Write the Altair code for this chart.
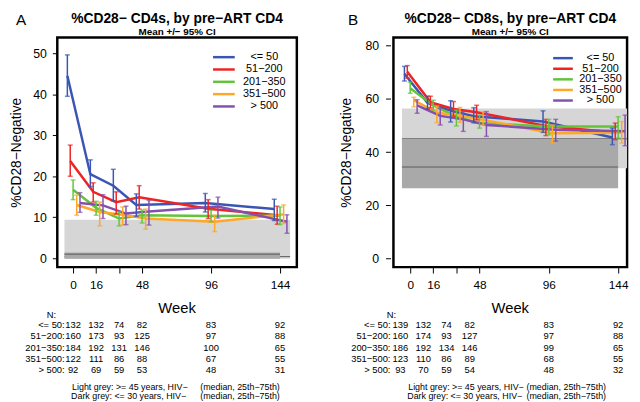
import altair as alt
import pandas as pd

FONT = "Liberation Sans"
TFONT = "Liberation Sans"

groups = ["<= 50", "51\u2212200", "201\u2212350", "351\u2212500", "> 500"]
colors = ["#3A56B5", "#EE2424", "#63C43C", "#FFA726", "#8450AE"]
weeks = [0, 16, 32, 48, 96, 144]

# ---- Panel A (CD4) : mean and 95% CI per group, per week ----
a_mean = [[44.5, 20.5, 17.7, 13.0, 13.5, 12.0],
          [23.7, 16.2, 13.7, 14.9, 12.1, 10.5],
          [16.7, 12.3, 9.7, 10.5, 10.3, 10.4],
          [13.0, 11.3, 10.6, 9.7, 8.9, 10.7],
          [13.5, 12.9, 10.9, 11.4, 12.6, 8.9]]
a_lo = [[39.5, 17.5, 14.0, 10.2, 11.3, 9.2],
        [20.0, 13.7, 10.8, 12.0, 9.7, 8.3],
        [14.3, 10.5, 7.9, 8.6, 8.9, 8.2],
        [10.5, 7.9, 8.1, 7.1, 6.5, 8.5],
        [11.2, 9.7, 8.2, 8.1, 9.8, 6.1]]
a_hi = [[49.6, 24.0, 21.7, 15.7, 15.8, 14.4],
        [27.6, 18.4, 16.2, 17.7, 14.3, 12.7],
        [19.1, 13.9, 11.3, 11.8, 11.7, 12.5],
        [15.4, 13.7, 12.5, 12.0, 10.5, 13.0],
        [16.0, 15.5, 12.7, 14.1, 14.9, 10.6]]
a_n = [[132, 132, 74, 82, 83, 92],
       [160, 173, 93, 125, 97, 88],
       [184, 192, 131, 146, 100, 65],
       [122, 111, 86, 88, 67, 55],
       [92, 69, 59, 53, 48, 31]]
a_rowlabels = ["<= 50:", "51\u2212200:", "201\u2212350:", "351\u2212500:", "> 500:"]
# reference bands: [lower, upper, median, first week, last week]
a_light = [-0.1, 9.4, 0.4, -6, 151]
a_dark = [-0.1, 1.4, 1.0, -6, 144]

# ---- Panel B (CD8) ----
b_mean = [[69.4, 58.5, 55.6, 53.5, 51.5, 45.5],
          [70.2, 58.8, 56.2, 55.0, 49.8, 47.4],
          [64.0, 57.5, 53.3, 50.9, 49.6, 49.6],
          [59.5, 54.8, 53.7, 52.1, 47.1, 47.3],
          [57.6, 53.6, 52.3, 50.2, 48.4, 47.8]]
b_lo = [[66.7, 56.1, 51.3, 51.0, 47.4, 42.8],
        [67.8, 56.6, 53.5, 52.1, 46.2, 44.7],
        [62.1, 55.8, 49.8, 49.0, 46.5, 45.3],
        [57.0, 51.1, 51.2, 50.2, 43.4, 43.4],
        [54.6, 50.2, 47.8, 45.9, 44.1, 42.4]]
b_hi = [[72.2, 61.0, 59.3, 56.7, 55.5, 49.0],
        [72.5, 61.0, 59.0, 57.6, 52.3, 50.9],
        [66.3, 59.5, 55.8, 53.9, 52.3, 53.3],
        [60.6, 57.3, 56.8, 55.2, 50.2, 51.5],
        [59.7, 56.4, 55.2, 55.2, 52.3, 53.9]]
b_n = [[139, 132, 74, 82, 83, 92],
       [160, 174, 93, 127, 97, 88],
       [186, 192, 134, 146, 99, 65],
       [123, 110, 86, 89, 68, 55],
       [93, 70, 59, 54, 48, 32]]
b_rowlabels = ["<= 50:", "51\u2212200:", "200\u2212350:", "351\u2212500:", "> 500:"]
b_light = [33.9, 56.4, 45.0, -5.7, 150.2]
b_dark = [26.4, 44.9, 34.4, -5.7, 144]

JITTER = [-4, -2, 0, 2.5, 4.8]   # horizontal dodge (weeks) per group
H = 233


def series_df(mean, lo, hi):
    rows = []
    for gi, g in enumerate(groups):
        for wi, w in enumerate(weeks):
            rows.append(dict(group=g, gi=gi, week=w, xj=w + JITTER[gi],
                             mean=mean[gi][wi], lo=lo[gi][wi], hi=hi[gi][wi]))
    return pd.DataFrame(rows)


def table_df(n):
    rows = []
    for gi in range(len(groups)):
        for wi, w in enumerate(weeks):
            rows.append(dict(ri=gi, week=w, n=str(n[gi][wi])))
    return pd.DataFrame(rows)


def txt(text, x, y, size, weight="normal", align="left", angle=0, font=FONT):
    return alt.Chart(pd.DataFrame({"t": [text]})).mark_text(
        align=align, baseline="alphabetic", fontSize=size, fontWeight=weight,
        angle=angle, font=font, color="black"
    ).encode(text="t:N", x=alt.value(x), y=alt.value(y))


def panel(p):
    W = p["width"]
    xs = alt.Scale(domain=p["xdom"], nice=False, zero=False)
    ys = alt.Scale(domain=p["ydom"], nice=False, zero=False)
    color = alt.Color("group:N", scale=alt.Scale(domain=groups, range=colors), legend=None)
    df = series_df(p["mean"], p["lo"], p["hi"])

    xaxis = alt.Axis(values=weeks, labelExpr="datum.value == 32 ? '' : datum.label",
                     tickSize=6, tickColor="black", tickWidth=1, labelPadding=7,
                     labelFontSize=12, labelColor="black", labelFont=FONT,
                     domain=False, grid=False, title=None, labelFlush=False, labelOverlap=False)
    yaxis = alt.Axis(values=p["yticks"], tickSize=5, tickColor="black", tickWidth=1,
                     labelPadding=p["ylabpad"], offset=p["yoffset"], labelFontSize=12.5,
                     labelColor="black", labelFont=FONT, domain=False, grid=False, title=None)

    # invisible layer that carries the axes
    axes = alt.Chart(df).mark_point(opacity=0).encode(
        x=alt.X("week:Q", scale=xs, axis=xaxis),
        y=alt.Y("mean:Q", scale=ys, axis=yaxis))

    def band_layers(b, fill):
        bdf = pd.DataFrame({"lo": [b[0]], "hi": [b[1]], "med": [b[2]], "x0": [b[3]], "x1": [b[4]]})
        r = alt.Chart(bdf).mark_rect(color=fill).encode(
            x=alt.X("x0:Q", scale=xs), x2="x1:Q",
            y=alt.Y("lo:Q", scale=ys), y2="hi:Q")
        m = alt.Chart(bdf).mark_rule(color="#5a5a5a", strokeWidth=1).encode(
            x=alt.X("x0:Q", scale=xs), x2="x1:Q",
            y=alt.Y("med:Q", scale=ys))
        return r, m

    lr, lm = band_layers(p["light"], "#D6D6D6")
    dr, dm = band_layers(p["dark"], "#A9A9A9")

    base = alt.Chart(df)
    lines = base.mark_line(strokeWidth=2.5).encode(
        x=alt.X("xj:Q", scale=xs), y=alt.Y("mean:Q", scale=ys),
        color=color, detail="group:N", order="week:Q")
    bars = base.mark_rule(strokeWidth=1.5).encode(
        x=alt.X("xj:Q", scale=xs), y=alt.Y("lo:Q", scale=ys), y2="hi:Q", color=color)
    caps = base.transform_fold(["lo", "hi"], as_=["k", "v"]).mark_tick(
        orient="horizontal", size=5, thickness=1.5).encode(
        x=alt.X("xj:Q", scale=xs), y=alt.Y("v:Q", scale=ys), color=color)

    # legend inside the plot
    leg = alt.Chart(pd.DataFrame({"group": groups, "gi": list(range(len(groups)))})).transform_calculate(
        py=f"{p['leg_y0']} + datum.gi * {p['leg_dy']}")
    leg_lines = leg.mark_rule(strokeWidth=2.5).encode(
        x=alt.value(p["leg_x0"]), x2=alt.value(p["leg_x1"]),
        y=alt.Y("py:Q", scale=None, axis=None), color=color)
    leg_text = leg.mark_text(align="center", baseline="middle", fontSize=11, font=FONT, color="black").encode(
        x=alt.value(p["leg_tx"]), y=alt.Y("py:Q", scale=None, axis=None), text="group:N")

    # N table under the axis
    tdf = table_df(p["n"])
    tbase = alt.Chart(tdf).transform_calculate(py="295 + datum.ri * 11.4")
    early = tbase.transform_filter("datum.week <= 48").mark_text(
        align="center", baseline="alphabetic", fontSize=9.5, font=TFONT, color="black", dx=p["early_dx"]
    ).encode(x=alt.X("week:Q", scale=xs), y=alt.Y("py:Q", scale=None, axis=None), text="n:N")
    late = tbase.transform_filter("datum.week > 48").mark_text(
        align="center", baseline="alphabetic", fontSize=9.5, font=TFONT, color="black"
    ).encode(x=alt.X("week:Q", scale=xs), y=alt.Y("py:Q", scale=None, axis=None), text="n:N")
    rl = alt.Chart(pd.DataFrame({"lab": p["rowlabels"], "ri": list(range(5))})).transform_calculate(
        py="295 + datum.ri * 11.4").mark_text(
        align="right", baseline="alphabetic", fontSize=9.5, font=TFONT, color="black").encode(
        x=alt.value(p["rl_x"]), y=alt.Y("py:Q", scale=None, axis=None), text="lab:N")

    texts = [
        txt(p["letter"], p["letter_x"], -13, 15.5),
        txt(p["title"], W / 2, -14.2, 14, weight="bold", align="center"),
        txt("Mean +/\u2212 95% CI", W / 2, -2.8, 10, weight="bold", align="center"),
        txt("%CD28\u2212Negative", p["ytitle_x"], 117, 14, align="center", angle=270),
        txt("Week", W / 2, 280, 15, align="center"),
        txt("N:", p["n_x"], 285, 9.5, align="center", font=TFONT),
        txt("Light grey: >= 45 years, HIV\u2212", p["note_x"], 357.5, 9, font=TFONT),
        txt("Dark grey: <= 30 years, HIV\u2212", p["note_x"] - 1, 367, 9, font=TFONT),
        txt("(median, 25th\u221275th)", p["med_x"], 357.5, 9, font=TFONT),
        txt("(median, 25th\u221275th)", p["med_x"], 367, 9, font=TFONT),
    ]

    return alt.layer(axes, lr, lm, dr, dm, lines, bars, caps, leg_lines, leg_text,
                     early, late, rl, *texts).properties(width=W, height=H)


pA = dict(letter="A", letter_x=-42, title="%CD28\u2212 CD4s, by pre\u2212ART CD4",
          mean=a_mean, lo=a_lo, hi=a_hi, n=a_n, rowlabels=a_rowlabels,
          light=a_light, dark=a_dark, width=243, xdom=[-11, 155.7], ydom=[-2.16, 53.85],
          yticks=[0, 10, 20, 30, 40, 50], ylabpad=6, yoffset=0,
          leg_y0=20, leg_dy=12.5, leg_x0=158, leg_x1=180, leg_tx=210,
          early_dx=0, rl_x=7.5, n_x=-6, ytitle_x=-37, note_x=15, med_x=145)
pB = dict(letter="B", letter_x=-46, title="%CD28\u2212 CD8s, by pre\u2212ART CD4",
          mean=b_mean, lo=b_lo, hi=b_hi, n=b_n, rowlabels=b_rowlabels,
          light=b_light, dark=b_dark, width=237, xdom=[-11.6, 150.2], ydom=[-3.2, 83.07],
          yticks=[0, 20, 40, 60, 80], ylabpad=7, yoffset=3,
          leg_y0=21, leg_dy=10.75, leg_x0=162, leg_x1=182, leg_tx=210,
          early_dx=-10, rl_x=-3, n_x=-2, ytitle_x=-43, note_x=15, med_x=135)

chart = alt.hconcat(panel(pA), panel(pB), spacing=98, bounds="flush").properties(
    padding=0
).configure(font=FONT).configure_view(stroke="black", strokeWidth=2.5)

chart.save("out.html", embed_options={"renderer": "svg", "actions": False})
